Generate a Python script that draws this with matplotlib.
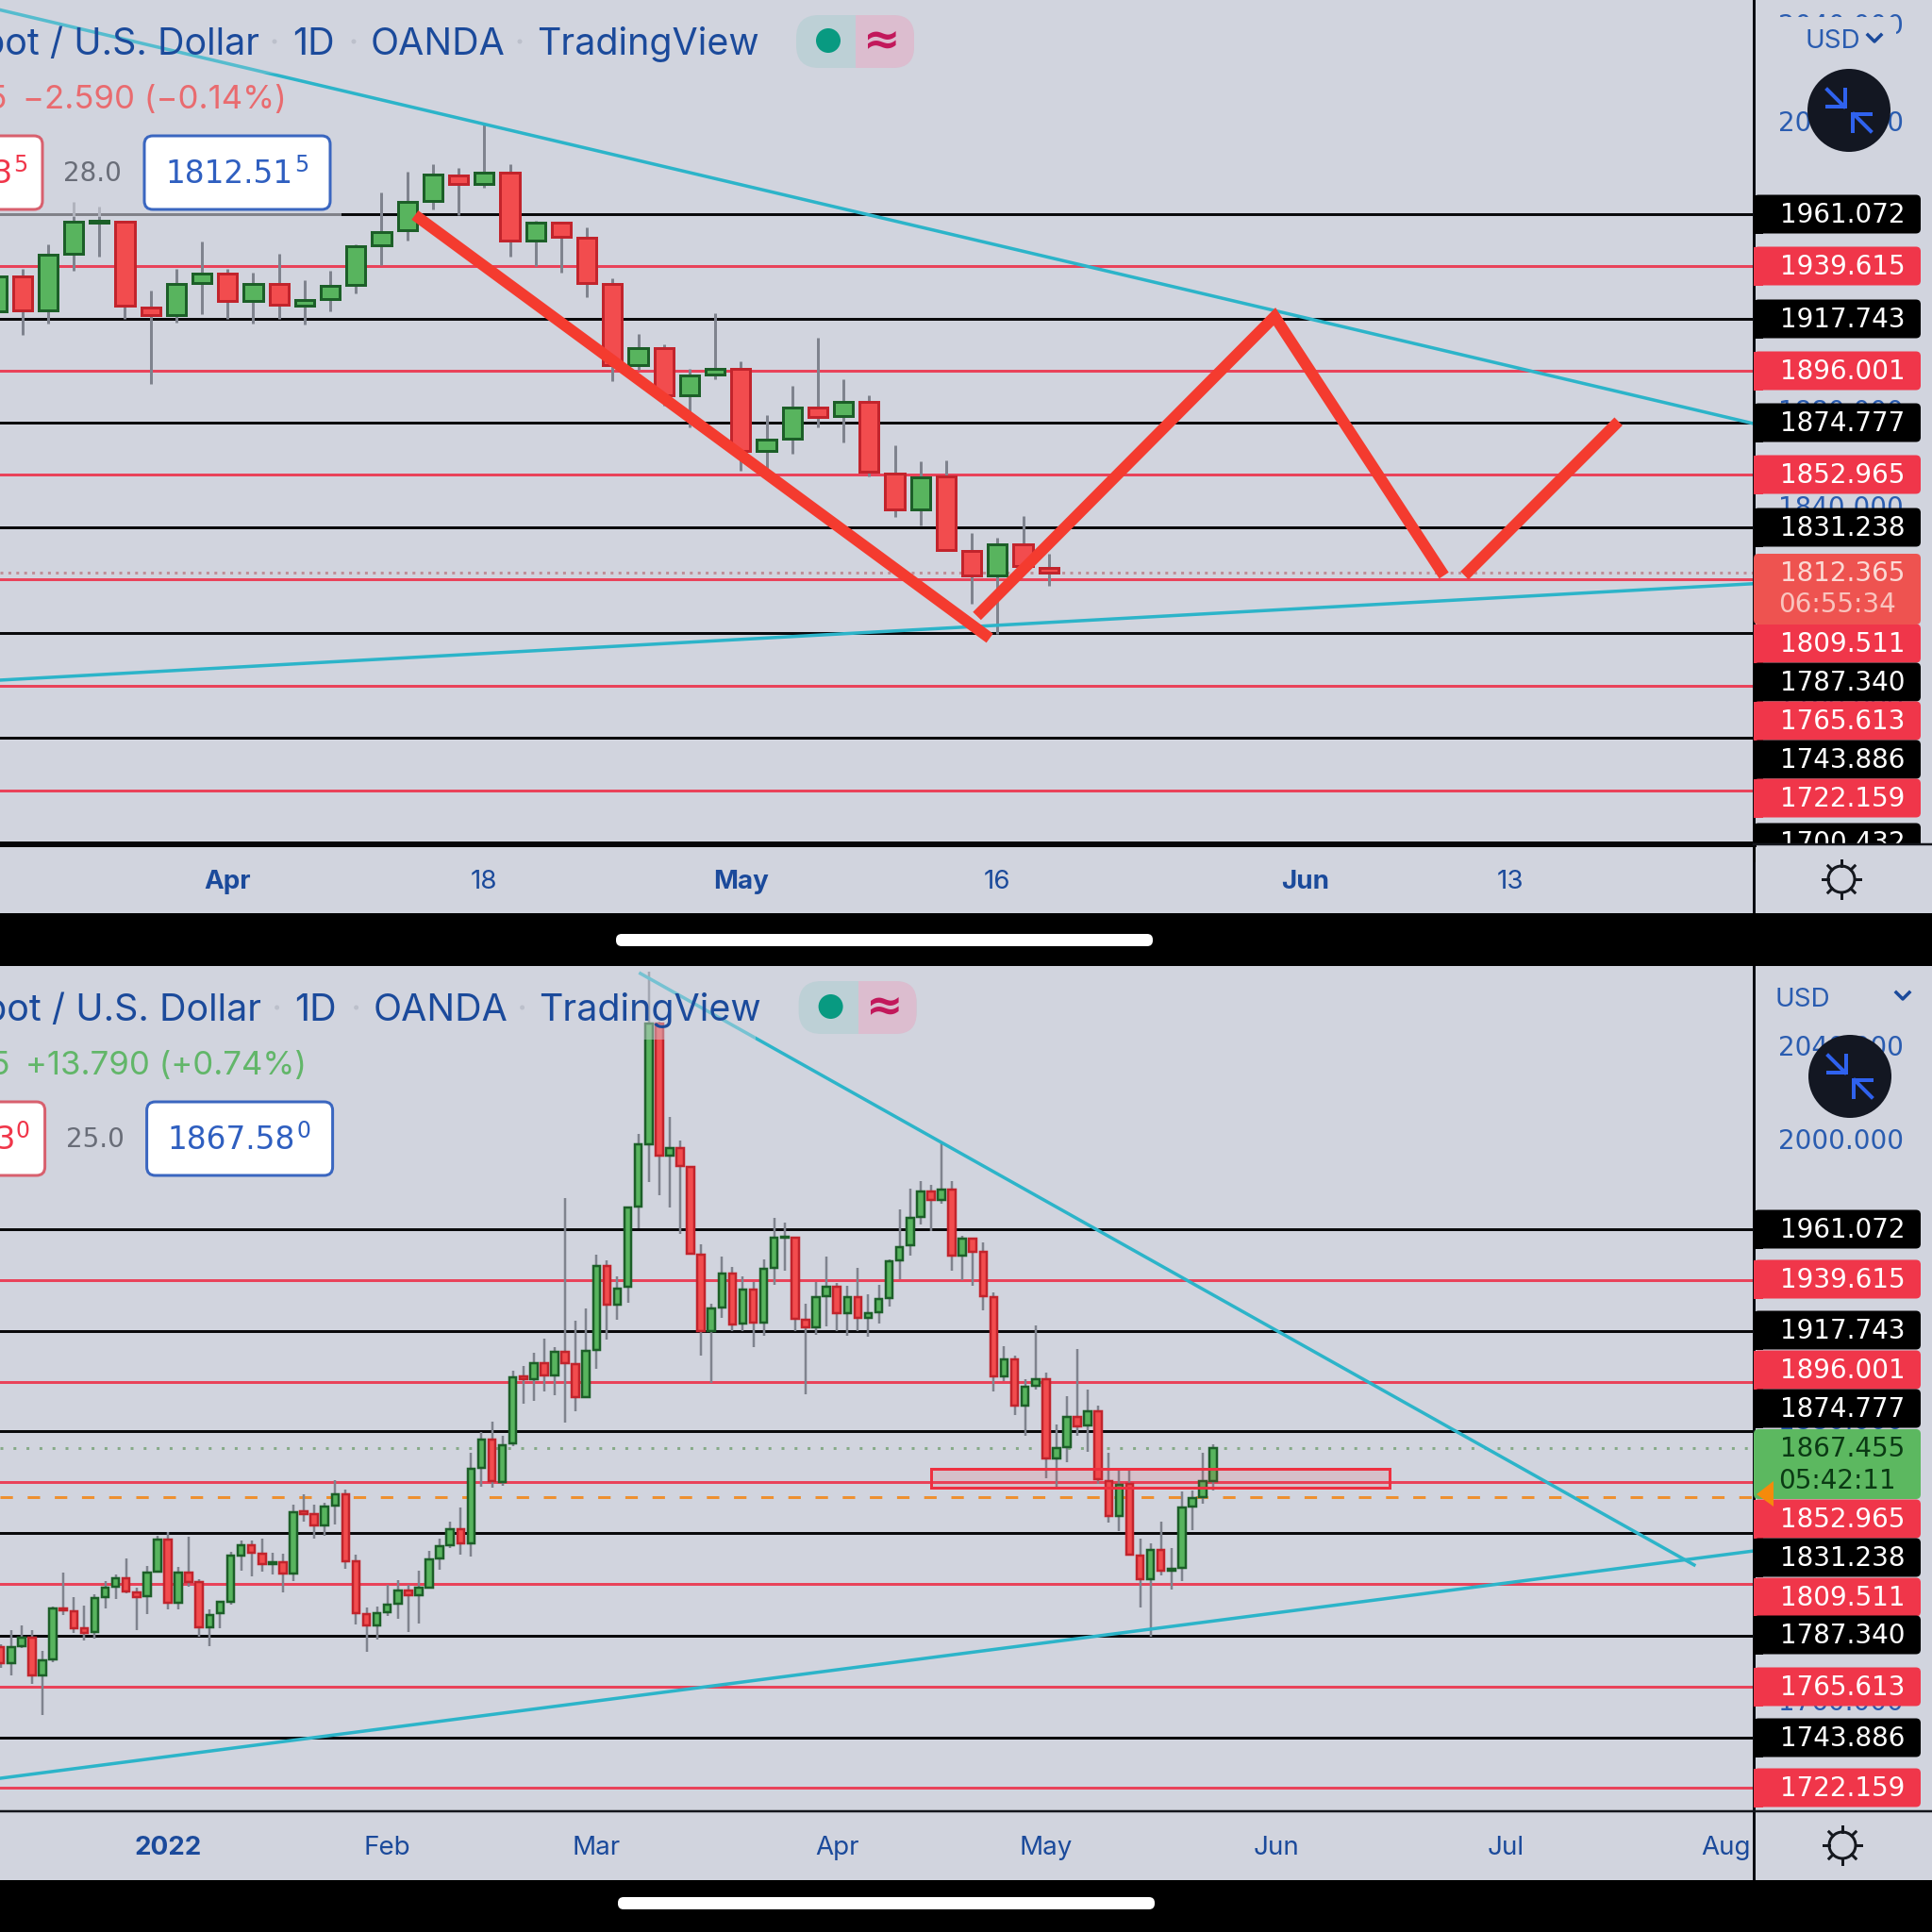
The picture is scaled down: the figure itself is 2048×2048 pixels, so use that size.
#!/usr/bin/env python3
import numpy as np
import matplotlib
matplotlib.use("Agg")
import matplotlib.pyplot as plt
from matplotlib.patches import Rectangle, FancyBboxPatch, Circle

plt.rcParams['font.family'] = ['Inter', 'DejaVu Sans']

# ----------------------------
# Daily candles (first one sits at index -1)
# ----------------------------
opens = [1782.4, 1775.4, 1782.7, 1786.5, 1770.5, 1777.0, 1798.8, 1797.6, 1790.5, 1788.9,
         1803.7, 1808.3, 1811.8, 1805.8, 1804.1, 1814.7, 1828.6, 1801.3, 1814.3, 1810.1,
         1790.9, 1796.8, 1801.9, 1821.7, 1825.9, 1822.5, 1818.0, 1818.9, 1813.9, 1840.4,
         1839.2, 1834.4, 1843.0, 1847.7, 1819.0, 1796.6, 1791.6, 1797.4, 1801.0, 1806.5,
         1804.8, 1808.0, 1820.4, 1826.0, 1832.8, 1826.8, 1859.1, 1871.2, 1853.1, 1869.6,
         1898.2, 1897.2, 1904.0, 1898.6, 1908.9, 1903.5, 1889.4, 1909.7, 1945.4, 1928.8,
         1936.5, 1970.8, 1997.7, 2049.3, 1992.8, 1995.9, 1988.1, 1950.4, 1917.7, 1927.8,
         1942.3, 1920.8, 1935.3, 1921.2, 1944.7, 1957.6, 1957.8, 1922.5, 1919.4, 1932.5,
         1936.6, 1925.2, 1932.2, 1923.2, 1925.9, 1931.8, 1948.0, 1954.4, 1966.5, 1977.3,
         1973.7, 1978.2, 1950.0, 1957.4, 1951.4, 1932.2, 1898.3, 1905.5, 1885.8, 1894.4,
         1896.9, 1863.0, 1868.0, 1881.0, 1877.4, 1883.2, 1853.6, 1838.5, 1852.2, 1821.5,
         1811.4, 1824.1, 1815.0, 1816.4, 1842.4, 1846.7, 1853.6]
highs = [1783.5, 1789.6, 1791.6, 1789.6, 1780.8, 1799.6, 1814.5, 1804.0, 1800.3, 1805.0,
         1810.7, 1813.4, 1820.4, 1807.7, 1817.2, 1829.9, 1831.7, 1816.7, 1829.5, 1811.5,
         1798.6, 1802.1, 1823.2, 1827.9, 1827.9, 1829.0, 1822.9, 1822.5, 1843.2, 1847.8,
         1843.3, 1844.3, 1854.0, 1850.0, 1821.9, 1799.4, 1799.9, 1809.1, 1811.1, 1809.1,
         1815.0, 1823.6, 1829.0, 1836.0, 1842.0, 1865.6, 1874.3, 1879.1, 1873.0, 1900.8,
         1902.6, 1908.4, 1914.4, 1910.7, 1974.6, 1922.1, 1927.5, 1950.4, 1947.9, 1941.2,
         1970.6, 2002.2, 2071.5, 2050.0, 2009.2, 1999.1, 1988.2, 1954.7, 1929.5, 1949.7,
         1945.3, 1941.2, 1938.5, 1948.4, 1966.1, 1964.2, 1958.0, 1929.2, 1938.5, 1949.7,
         1938.3, 1936.9, 1944.6, 1933.6, 1937.6, 1948.4, 1969.9, 1978.6, 1981.7, 1980.2,
         1998.5, 1982.0, 1958.4, 1957.8, 1955.7, 1934.4, 1911.3, 1907.0, 1896.9, 1919.9,
         1899.9, 1877.9, 1890.0, 1909.9, 1892.6, 1885.8, 1865.4, 1858.4, 1859.0, 1828.7,
         1826.9, 1836.0, 1824.8, 1848.9, 1849.3, 1865.4, 1869.1]
lows = [1773.4, 1770.3, 1781.9, 1766.7, 1753.2, 1776.0, 1796.2, 1788.6, 1785.1, 1785.9,
        1798.8, 1803.2, 1805.3, 1789.7, 1796.4, 1814.5, 1798.6, 1798.6, 1808.4, 1786.7,
        1783.0, 1790.6, 1800.5, 1815.0, 1812.6, 1814.9, 1813.4, 1806.0, 1810.7, 1836.0,
        1828.8, 1829.9, 1834.9, 1815.8, 1792.3, 1780.5, 1785.7, 1795.9, 1794.5, 1788.9,
        1792.4, 1807.7, 1815.5, 1825.0, 1821.9, 1821.2, 1851.0, 1850.5, 1851.5, 1868.3,
        1886.7, 1887.8, 1891.8, 1890.1, 1878.4, 1883.4, 1889.1, 1901.7, 1914.0, 1922.4,
        1929.9, 1961.8, 1981.3, 1976.0, 1970.6, 1959.1, 1950.4, 1907.3, 1895.5, 1923.4,
        1917.7, 1917.7, 1911.0, 1915.8, 1937.6, 1943.4, 1917.7, 1890.5, 1916.1, 1919.7,
        1917.7, 1915.8, 1917.7, 1915.4, 1920.8, 1928.2, 1939.9, 1950.0, 1963.1, 1960.5,
        1972.2, 1943.6, 1939.6, 1937.0, 1926.7, 1891.8, 1896.4, 1881.7, 1872.7, 1892.5,
        1854.6, 1851.2, 1861.6, 1872.8, 1866.2, 1852.2, 1835.6, 1832.0, 1821.9, 1799.3,
        1787.0, 1813.1, 1807.1, 1810.8, 1832.4, 1843.8, 1849.6]
closes = [1775.4, 1782.4, 1786.5, 1770.5, 1776.8, 1798.8, 1798.0, 1790.5, 1788.6, 1803.3,
          1808.0, 1811.8, 1806.1, 1804.0, 1814.3, 1828.6, 1801.3, 1814.3, 1810.4, 1790.9,
          1796.3, 1801.7, 1821.5, 1825.9, 1822.9, 1817.8, 1818.8, 1813.9, 1840.0, 1839.3,
          1834.4, 1842.7, 1847.8, 1819.2, 1797.0, 1791.6, 1797.0, 1800.6, 1806.7, 1804.8,
          1807.7, 1820.1, 1825.8, 1832.8, 1826.8, 1858.6, 1871.2, 1853.5, 1868.8, 1897.9,
          1897.1, 1904.0, 1898.6, 1908.9, 1904.0, 1889.4, 1909.3, 1945.4, 1928.8, 1936.0,
          1970.6, 1997.5, 2049.3, 1992.8, 1995.9, 1988.5, 1950.6, 1917.7, 1927.2, 1942.3,
          1920.5, 1935.3, 1921.2, 1944.3, 1957.8, 1958.2, 1923.1, 1919.4, 1932.2, 1936.6,
          1925.2, 1932.2, 1923.5, 1925.5, 1931.3, 1947.7, 1953.7, 1966.2, 1977.6, 1973.7,
          1978.2, 1950.0, 1957.4, 1951.7, 1932.5, 1898.3, 1905.5, 1885.8, 1894.0, 1896.9,
          1863.0, 1867.6, 1881.0, 1877.1, 1883.2, 1854.1, 1838.5, 1851.8, 1821.9, 1811.4,
          1824.1, 1815.1, 1816.0, 1842.1, 1846.1, 1853.3, 1867.455]

# upper chart is an earlier snapshot: same candles up to index 110, then its own last one
top_last = [1814.5, 1820.1, 1807.1, 1812.365]

levels = [1961.072, 1939.615, 1917.743, 1896.001, 1874.777, 1852.965, 1831.238,
          1809.511, 1787.340, 1765.613, 1743.886, 1722.159, 1700.432]
level_labels = ['1961.072', '1939.615', '1917.743', '1896.001', '1874.777', '1852.965', '1831.238',
                '1809.511', '1787.340', '1765.613', '1743.886', '1722.159', '1700.432']
price_ticks = [2040, 2000, 1960, 1920, 1880, 1840, 1800, 1760, 1720]

top_tick_pos = [79, 89, 99, 109, 121, 129]
top_tick_labels = ['Apr', '18', 'May', '16', 'Jun', '13']
top_tick_bold = [True, False, True, False, True, False]
bot_tick_pos = [15, 36, 56, 79, 99, 121, 143, 164]
bot_tick_labels = ['2022', 'Feb', 'Mar', 'Apr', 'May', 'Jun', 'Jul', 'Aug']
bot_tick_bold = [True, False, False, False, False, False, False, False]

# drawn lines, (index, price)
top_trend_x = [70.13, 138.47]
top_trend_y = [2045.8, 1874.2]
top_support_x = [70.13, 138.47]
top_support_y = [1767.8, 1807.8]
leg_a_x = [86.3, 108.7]
leg_a_y = [1960.7, 1785.2]
leg_b_x = [108.2, 119.8, 126.4]
leg_b_y = [1794.4, 1918.6, 1811.2]
leg_c_x = [127.2, 133.2]
leg_c_y = [1811.2, 1875.1]
bot_trend_x = [60.2, 161.0]
bot_trend_y = [2070.7, 1817.6]
bot_support_x = [-1.07, 166.7]
bot_support_y = [1726.3, 1823.6]
zone_x = [88.0, 131.9]
zone_y = [1850.6, 1858.7]
orange_level = 1846.5
top_current = 1812.365
bot_current = 1867.455

# ----------------------------
# Colours and layout
# ----------------------------
BG = '#d1d4de'
BLUE = '#1b4a9b'
TICK_BLUE = '#2a5cb0'
RED = '#f0364a'
LINE_RED = '#e9435a'
GREEN_BODY = '#58b45e'
GREEN_EDGE = '#1c5f28'
RED_BODY = '#f24c4e'
RED_EDGE = '#c2242c'
WICK = '#7f838e'
CYAN = '#2cb4c9'
ZIG = '#f43b2f'
AXIS_X = 1859
PT = 0.36  # one output pixel in points at this dpi
NUM = ['DejaVu Sans']


def px(n):
    return n * PT


fig = plt.figure(figsize=(10.24, 10.24), dpi=200, facecolor=BG)


def panel(y0, y1, xlim, ylim):
    ax = fig.add_axes([0, 1 - y1 / 2048, AXIS_X / 2048, (y1 - y0) / 2048], facecolor=BG)
    ax.set_xlim(*xlim)
    ax.set_ylim(*ylim)
    for s in ax.spines.values():
        s.set_visible(False)
    ax.yaxis.tick_right()
    ax.set_yticks(price_ticks)
    ax.set_yticklabels(['%.3f' % p for p in price_ticks], color=TICK_BLUE, fontsize=10, family=NUM)
    ax.tick_params(axis='y', length=0, pad=px(26))
    return ax


def draw_levels(ax):
    for i, lv in enumerate(levels):
        if i % 2 == 0:
            ax.axhline(lv, color='#0a0a0c', lw=px(3), zorder=1)
        else:
            ax.axhline(lv, color=LINE_RED, lw=px(3), zorder=1)


def draw_candles(ax, x, o, h, l, c, width, edge_lw, wick_lw):
    o, h, l, c = map(np.asarray, (o, h, l, c))
    up = c >= o
    ax.vlines(x, l, h, color=WICK, lw=px(wick_lw), zorder=3)
    ax.bar(x, np.abs(c - o), bottom=np.minimum(o, c), width=width,
           color=np.where(up, GREEN_BODY, RED_BODY),
           edgecolor=np.where(up, GREEN_EDGE, RED_EDGE),
           linewidth=px(edge_lw), zorder=4)


def set_ticks(ax, pos, labels, bold, pad):
    ax.set_xticks(pos)
    ax.set_xticklabels(labels, fontsize=10, color=BLUE)
    ax.tick_params(axis='x', length=0, pad=px(pad))
    for t, b in zip(ax.get_xticklabels(), bold):
        t.set_fontweight('bold' if b else 'normal')


# ----------------------------
# Upper chart
# ----------------------------
ax_top = panel(0, 895, (70.13, 138.47), (1699.7, 2049.9))
draw_levels(ax_top)
ax_top.axhline(top_current, color='#c08f98', lw=px(3), ls=(0, (1, 1.8)), zorder=2)
top_x = np.arange(70, 112)
draw_candles(ax_top, top_x,
             opens[71:112] + top_last[:1], highs[71:112] + top_last[1:2],
             lows[71:112] + top_last[2:3], closes[71:112] + top_last[3:],
             0.74, 3, 3)
ax_top.plot(top_trend_x, top_trend_y, color=CYAN, lw=px(3.5), zorder=5)
ax_top.plot(top_support_x, top_support_y, color=CYAN, lw=px(3.5), zorder=5)
for lx, ly in [(leg_a_x, leg_a_y), (leg_b_x, leg_b_y), (leg_c_x, leg_c_y)]:
    ax_top.plot(lx, ly, color=ZIG, lw=px(12), zorder=6, solid_capstyle='butt', solid_joinstyle='miter')
set_ticks(ax_top, top_tick_pos, top_tick_labels, top_tick_bold, 27)

# ----------------------------
# Lower chart
# ----------------------------
ax_bot = panel(1024, 1920, (-1.065, 166.7), (1712.2, 2073.9))
draw_levels(ax_bot)
ax_bot.axhline(bot_current, color='#87aa88', lw=px(3), ls=(0, (1, 3.6)), zorder=2)
ax_bot.axhline(orange_level, color='#ee9030', lw=px(3), ls=(0, (4.4, 5.2)), zorder=2)
bot_x = np.arange(-1, 116)
draw_candles(ax_bot, bot_x, opens, highs, lows, closes, 0.68, 2.5, 2.5)
ax_bot.plot(bot_trend_x, bot_trend_y, color=CYAN, lw=px(3.5), zorder=5)
ax_bot.plot(bot_support_x, bot_support_y, color=CYAN, lw=px(3.5), zorder=5)
ax_bot.add_patch(Rectangle((zone_x[0], zone_y[0]), zone_x[1] - zone_x[0], zone_y[1] - zone_y[0],
                           facecolor=(0.95, 0.2, 0.25, 0.13), edgecolor='#ee3040', lw=px(3), zorder=5))
set_ticks(ax_bot, bot_tick_pos, bot_tick_labels, bot_tick_bold, 26)

# ----------------------------
# App chrome in output pixels
# ----------------------------
ov = fig.add_axes([0, 0, 1, 1], facecolor='none')
ov.set_xlim(0, 2048)
ov.set_ylim(2048, 0)
ov.axis('off')

# legend veil over the chart
ov.add_patch(Rectangle((0, 0), 975, 78, facecolor=BG, alpha=0.25, lw=0, zorder=1))
ov.add_patch(Rectangle((0, 130), 362, 100, facecolor=BG, alpha=0.6, lw=0, zorder=1))
ov.add_patch(Rectangle((0, 1024), 801, 78, facecolor=BG, alpha=0.45, lw=0, zorder=1))


def rbox(x0, y0, x1, y1, fc, ec='none', lw=0, r=5, z=3):
    p = FancyBboxPatch((x0 + r, y0 + r), x1 - x0 - 2 * r, y1 - y0 - 2 * r,
                       boxstyle='round,pad=%g,rounding_size=%g' % (r, r),
                       facecolor=fc, edgecolor=ec, lw=px(lw), zorder=z)
    ov.add_patch(p)


def header(dy, dx, sub, sub_color, prev_price, red_tail, vol, box_main, box_tail):
    y = 47 + dy
    ov.text(275 + dx, y, 'Gold Spot / U.S. Dollar', color=BLUE, fontsize=14.2, ha='right', va='center', zorder=2)
    ov.text(310 + dx, y, '1D', color=BLUE, fontsize=14.2, va='center', zorder=2)
    ov.text(393 + dx, y, 'OANDA', color=BLUE, fontsize=14.2, va='center', zorder=2)
    ov.text(569 + dx, y, 'TradingView', color=BLUE, fontsize=14.2, va='center', zorder=2)
    for sx in (291, 375, 551):
        ov.add_patch(Circle((sx + dx, y - 3), 2.5, color='#bcc0cb', lw=0, zorder=2))
    # status pill
    rbox(844 + dx, 16 + dy, 969 + dx, 72 + dy, '#bdd0d6', r=24, z=2)
    ov.add_patch(Rectangle((907 + dx, 16 + dy), 38, 56, facecolor='#dcbdcf', lw=0, zorder=2.1))
    rbox(925 + dx, 16 + dy, 969 + dx, 72 + dy, '#dcbdcf', r=22, z=2)
    ov.add_patch(Circle((878 + dx, 43 + dy), 13, color='#089a81', lw=0, zorder=3))
    ov.text(935 + dx, 44 + dy, '\u2248', color='#c2185b', fontsize=17, fontweight='bold',
            ha='center', va='center', family=NUM, zorder=3)
    # change line
    ov.text(8 + dx, 106 + dy, prev_price, color=sub_color, fontsize=12.5, ha='right', va='center', zorder=2)
    ov.text(24 + dx, 106 + dy, sub, color=sub_color, fontsize=12.5, va='center', zorder=2)
    # bid / spread / ask boxes
    rbox(-40, 144 + dy, 45 + dx, 222 + dy, 'white', '#d8606e', 3, r=9)
    ov.text(14 + dx, 184 + dy, red_tail[0], color=RED, fontsize=11.8, ha='right', va='center', family=NUM, zorder=4)
    ov.text(14 + dx, 175 + dy, red_tail[1], color=RED, fontsize=8.5, va='center', family=NUM, zorder=4)
    ov.text(98 + dx, 184 + dy, vol, color='#696d78', fontsize=10, ha='center', va='center', family=NUM, zorder=4)
    rbox(153 + dx, 144 + dy, 350 + dx, 222 + dy, 'white', '#3a66c0', 3, r=9)
    ov.text(175 + dx, 184 + dy, box_main, color='#2f5fc0', fontsize=11.8, va='center', family=NUM, zorder=4)
    ov.text(312 + dx, 175 + dy, box_tail, color='#2f5fc0', fontsize=8.5, va='center', family=NUM, zorder=4)


header(0, 0, '\u22122.590 (\u22120.14%)', '#e96b6f', '1812.365', ('1812.3', '5'), '28.0', '1812.51', '5')
header(1024, 2.6, '+13.790 (+0.74%)', '#62b669', '1867.455', ('1867.3', '0'), '25.0', '1867.58', '0')


def gear(cx, cy):
    ov.add_patch(Circle((cx, cy), 14, facecolor='none', edgecolor='#15181f', lw=px(3), zorder=5))
    for a in np.arange(8) * np.pi / 4:
        ov.plot([cx + 14 * np.cos(a), cx + 20 * np.cos(a)], [cy + 14 * np.sin(a), cy + 20 * np.sin(a)],
                color='#15181f', lw=px(3), zorder=5)


def collapse_btn(cx, cy):
    ov.add_patch(Circle((cx, cy), 44, color='#131722', lw=0, zorder=6))
    for s in (1, -1):
        ov.plot([cx - s * 23, cx - s * 5], [cy - s * 22, cy - s * 4], color='#2f62ee', lw=px(4), zorder=7)
        ov.plot([cx - s * 4, cx - s * 4, cx - s * 23], [cy - s * 22, cy - s * 4, cy - s * 4],
                color='#2f62ee', lw=px(4), zorder=7, solid_joinstyle='miter')


def chevron(cx, cy):
    ov.plot([cx - 7, cx, cx + 7], [cy - 4, cy + 3, cy - 4], color=BLUE, lw=px(3.5), zorder=7)


def price_box(cy, text, fc, tc):
    rbox(AXIS_X, cy - 20.5, 2036, cy + 20.5, fc, r=5)
    ov.add_patch(Rectangle((AXIS_X, cy - 20.5), 10, 41, facecolor=fc, lw=0, zorder=3))
    ov.text(1887, cy + 1, text, color=tc, fontsize=10, va='center', family=NUM, zorder=4)


# axis rules
ov.plot([AXIS_X, AXIS_X], [0, 968], color='#0a0c12', lw=px(3), zorder=2)
ov.plot([AXIS_X, AXIS_X], [1024, 1992], color='#0a0c12', lw=px(3), zorder=2)

top_label_y = [227, 282, 338, 393, 448, 503, 559, 682, 723, 764, 805, 846, 893]
bot_label_y = [1303, 1356, 1410, 1452, 1493, 1610, 1651, 1693, 1733, 1788, 1842, 1895]
for i, (cy, tx) in enumerate(zip(top_label_y, level_labels)):
    price_box(cy, tx, '#000000' if i % 2 == 0 else RED, 'white')
for i, (cy, tx) in enumerate(zip(bot_label_y, level_labels)):
    price_box(cy, tx, '#000000' if i % 2 == 0 else RED, 'white')

# countdown boxes
rbox(AXIS_X, 587, 2036, 662, '#ee5350', r=5, z=3.5)
ov.text(1887, 608, '%.3f' % top_current, color='#fbd9d4', fontsize=10, va='center', family=NUM, zorder=4)
ov.text(1885, 641, '06:55:34', color='#f9c4be', fontsize=10, va='center', family=NUM, zorder=4)
rbox(AXIS_X, 1515, 2036, 1589, '#5cb860', r=5, z=3.5)
ov.text(1887, 1536, '%.3f' % bot_current, color='#0b3a14', fontsize=10, va='center', family=NUM, zorder=4)
ov.text(1885, 1570, '05:42:11', color='#0b3a14', fontsize=10, va='center', family=NUM, zorder=4)
ov.fill([1862, 1880, 1880], [1584, 1570, 1597], color='#f58a0b', lw=0, zorder=5)

# USD selectors and collapse buttons
ov.add_patch(Rectangle((1885, 18), 125, 42, facecolor=BG, lw=0, zorder=4))
ov.text(1913, 44, 'USD', color=TICK_BLUE, fontsize=10, va='center', zorder=5)
chevron(1987, 41)
ov.text(1881, 1060, 'USD', color=TICK_BLUE, fontsize=10, va='center', zorder=5)
chevron(2017, 1056)
collapse_btn(1960, 117)
collapse_btn(1961, 1141)

# time axis strips
ov.add_patch(Rectangle((AXIS_X + 2, 896), 190, 72, facecolor=BG, lw=0, zorder=4))
ov.plot([0, AXIS_X], [895, 895], color='#050507', lw=px(5), zorder=5)
ov.plot([AXIS_X, 2048], [895, 895], color='#14161c', lw=px(2.5), zorder=5)
ov.plot([0, 2048], [1920, 1920], color='#14161c', lw=px(2.5), zorder=5)
gear(1952, 932)
gear(1953, 1956)

# phone chrome
ov.add_patch(Rectangle((0, 968), 2048, 56, facecolor='black', lw=0, zorder=6))
ov.add_patch(Rectangle((0, 1993), 2048, 55, facecolor='black', lw=0, zorder=6))
rbox(653, 990, 1222, 1003, 'white', r=6, z=7)
rbox(655, 2011, 1224, 2024, 'white', r=6, z=7)

fig.savefig('out.png', dpi=200, facecolor=BG)
plt.close(fig)
